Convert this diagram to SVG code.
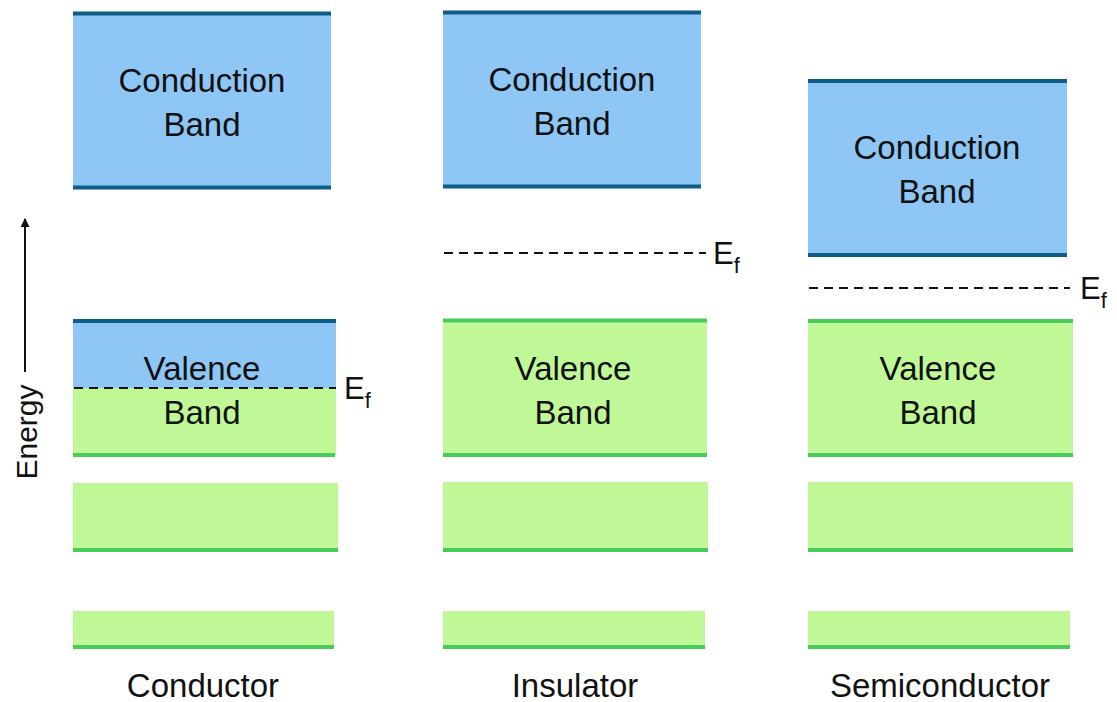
<svg xmlns="http://www.w3.org/2000/svg" width="1117" height="702" viewBox="0 0 1117 702">
  <style>
    text { font-family: "Liberation Sans", Arial, sans-serif; fill: #111; }
    .lbl { font-size: 33px; text-anchor: middle; }
    .cb { fill: #8EC6F5; }
    .vb { fill: #C0F898; }
    .cl { stroke: #0D5C8A; stroke-width: 4; }
    .gl { stroke: #48CB58; stroke-width: 4; }
    .ef { stroke: #111; stroke-width: 2; stroke-dasharray: 9 6; }
    .e { font-size: 31px; }
    .sub { font-size: 22px; }
  </style>
  <defs>
    <marker id="arrow" viewBox="0 0 10 10" refX="9" refY="5" markerWidth="10" markerHeight="9" markerUnits="userSpaceOnUse" orient="auto">
      <path d="M0,0 L10,5 L0,10 z" fill="#111"/>
    </marker>
  </defs>

  <!-- Energy axis -->
  <g id="energy-axis">
    <line x1="25" y1="372" x2="25" y2="219" stroke="#111" stroke-width="2" marker-end="url(#arrow)"/>
    <text transform="translate(37,432) rotate(-90)" text-anchor="middle" font-size="30">Energy</text>
  </g>

  <!-- Conductor -->
  <g id="conductor-conduction">
    <rect class="cb" x="73" y="13" width="258" height="175"/>
    <line class="cl" x1="73" y1="13.5" x2="331" y2="13.5"/>
    <line class="cl" x1="73" y1="187.5" x2="331" y2="187.5"/>
    <text class="lbl" x="202" y="92">Conduction</text>
    <text class="lbl" x="202" y="136">Band</text>
  </g>
  <g id="conductor-valence">
    <rect class="cb" x="73" y="321" width="263" height="67"/>
    <rect class="vb" x="73" y="388" width="263" height="67"/>
    <line class="cl" x1="73" y1="321" x2="336" y2="321"/>
    <line class="gl" x1="73" y1="455" x2="335" y2="455"/>
    <text class="lbl" x="202" y="380">Valence</text>
    <text class="lbl" x="202" y="424">Band</text>
  </g>
  <g id="conductor-band2">
    <rect class="vb" x="73" y="483" width="265" height="67"/>
    <line class="gl" x1="73" y1="550" x2="338" y2="550"/>
  </g>
  <g id="conductor-band3">
    <rect class="vb" x="73" y="611" width="261" height="36"/>
    <line class="gl" x1="73" y1="647" x2="334" y2="647"/>
  </g>
  <g id="conductor-ef">
    <line class="ef" x1="74" y1="388" x2="336" y2="388"/>
    <text class="e" x="344" y="399">E<tspan class="sub" dy="9">f</tspan></text>
  </g>
  <text id="conductor-label" class="lbl" x="203" y="697">Conductor</text>

  <!-- Insulator -->
  <g id="insulator-conduction">
    <rect class="cb" x="443" y="12" width="258" height="175"/>
    <line class="cl" x1="443" y1="12.5" x2="701" y2="12.5"/>
    <line class="cl" x1="443" y1="186.5" x2="701" y2="186.5"/>
    <text class="lbl" x="572" y="91">Conduction</text>
    <text class="lbl" x="572" y="135">Band</text>
  </g>
  <g id="insulator-ef">
    <line class="ef" x1="444" y1="253" x2="706" y2="253"/>
    <text class="e" x="713" y="264">E<tspan class="sub" dy="9">f</tspan></text>
  </g>
  <g id="insulator-valence">
    <rect class="vb" x="443" y="320" width="264" height="135"/>
    <line class="gl" x1="443" y1="320.5" x2="707" y2="320.5"/>
    <line class="gl" x1="443" y1="455" x2="707" y2="455"/>
    <text class="lbl" x="573" y="380">Valence</text>
    <text class="lbl" x="573" y="424">Band</text>
  </g>
  <g id="insulator-band2">
    <rect class="vb" x="443" y="482" width="265" height="68"/>
    <line class="gl" x1="443" y1="550" x2="708" y2="550"/>
  </g>
  <g id="insulator-band3">
    <rect class="vb" x="443" y="611" width="262" height="36"/>
    <line class="gl" x1="443" y1="647" x2="705" y2="647"/>
  </g>
  <text id="insulator-label" class="lbl" x="575" y="697">Insulator</text>

  <!-- Semiconductor -->
  <g id="semiconductor-conduction">
    <rect class="cb" x="808" y="81" width="259" height="174"/>
    <line class="cl" x1="808" y1="81" x2="1067" y2="81"/>
    <line class="cl" x1="808" y1="255" x2="1067" y2="255"/>
    <text class="lbl" x="937" y="159">Conduction</text>
    <text class="lbl" x="937" y="203">Band</text>
  </g>
  <g id="semiconductor-ef">
    <line class="ef" x1="809" y1="288" x2="1070" y2="288"/>
    <text class="e" x="1080" y="299">E<tspan class="sub" dy="9">f</tspan></text>
  </g>
  <g id="semiconductor-valence">
    <rect class="vb" x="808" y="321" width="265" height="134"/>
    <line class="gl" x1="808" y1="321" x2="1073" y2="321"/>
    <line class="gl" x1="808" y1="455" x2="1073" y2="455"/>
    <text class="lbl" x="938" y="380">Valence</text>
    <text class="lbl" x="938" y="424">Band</text>
  </g>
  <g id="semiconductor-band2">
    <rect class="vb" x="808" y="482" width="265" height="68"/>
    <line class="gl" x1="808" y1="550" x2="1073" y2="550"/>
  </g>
  <g id="semiconductor-band3">
    <rect class="vb" x="808" y="611" width="262" height="36"/>
    <line class="gl" x1="808" y1="647" x2="1070" y2="647"/>
  </g>
  <text id="semiconductor-label" class="lbl" x="940" y="697">Semiconductor</text>
</svg>
